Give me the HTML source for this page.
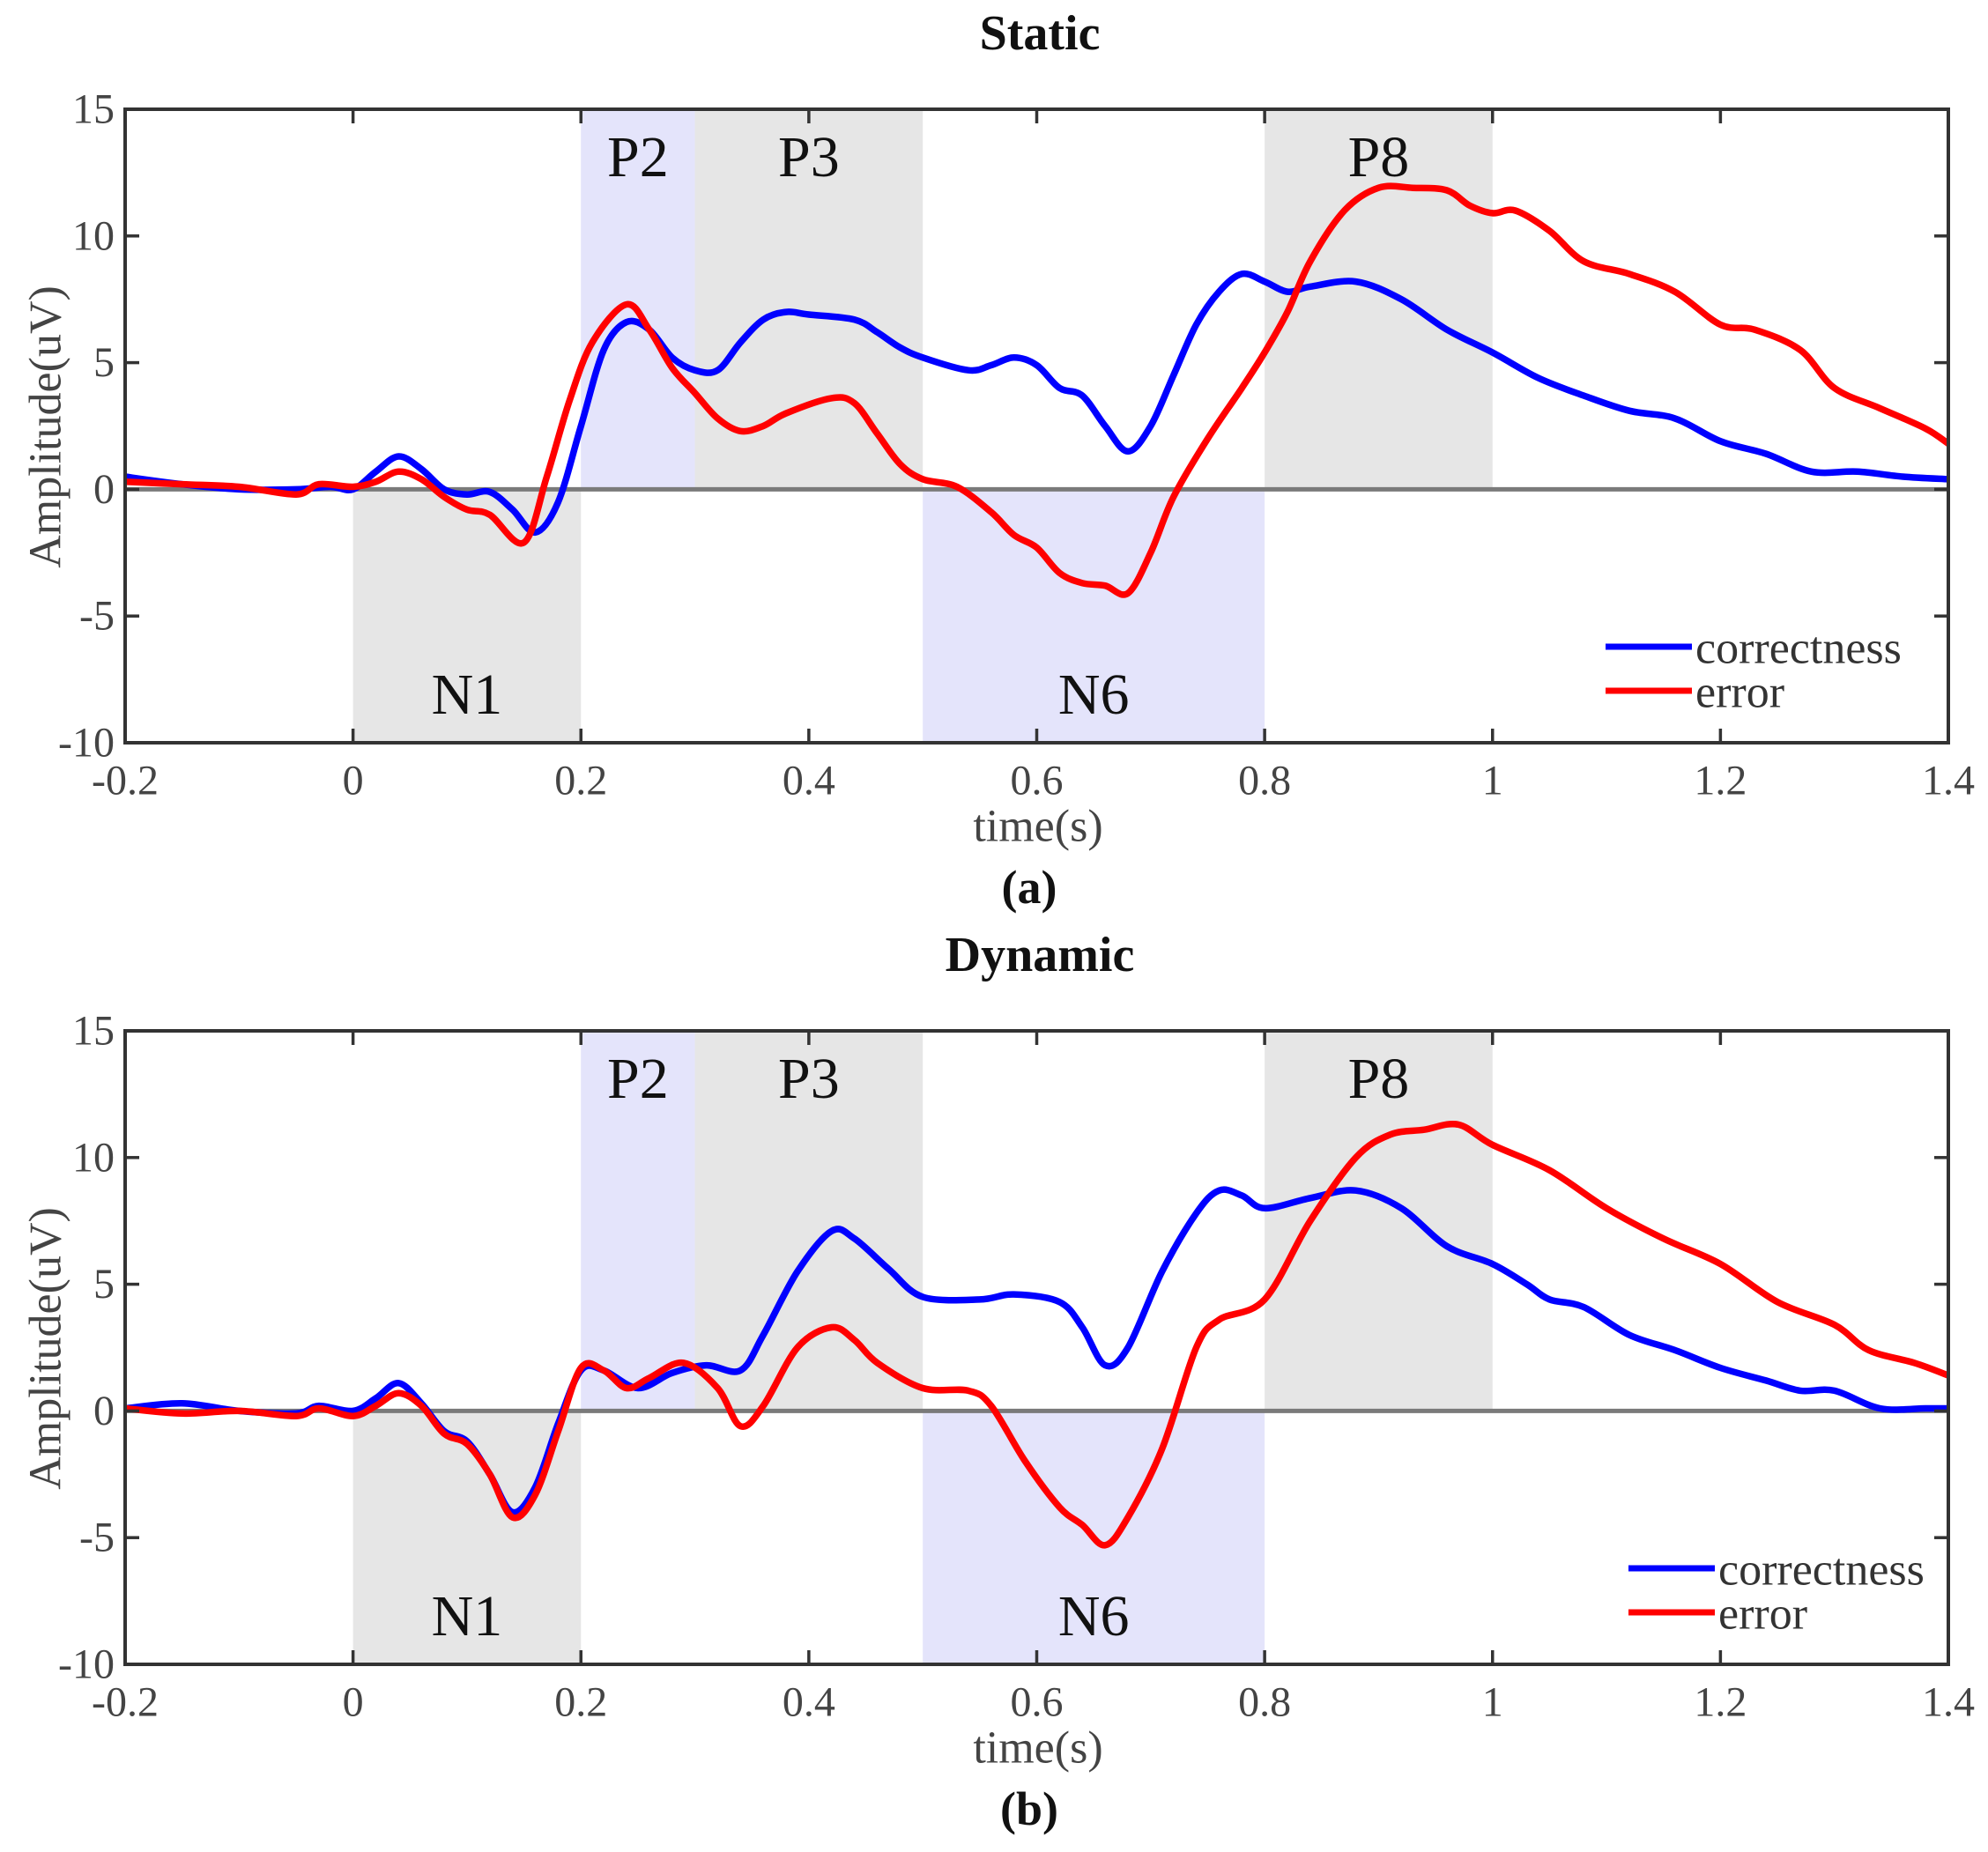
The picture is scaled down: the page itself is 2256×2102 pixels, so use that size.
<!DOCTYPE html>
<html><head><meta charset="utf-8"><style>
html,body{margin:0;padding:0;background:#fff;}
svg{display:block;}
text{font-family:"Liberation Serif",serif;}
</style></head><body>
<svg id="fig" width="2256" height="2102" viewBox="0 0 2256 2102" xmlns="http://www.w3.org/2000/svg"></svg>
<script>
// ---- data ----
const xTicks = [-0.2,0,0.2,0.4,0.6,0.8,1,1.2,1.4];
const xTickLabels = ["-0.2","0","0.2","0.4","0.6","0.8","1","1.2","1.4"];
const yTicks = [-10,-5,0,5,10,15];
const yTickLabels = ["-10","-5","0","5","10","15"];
const regionNames = ["N1","P2","P3","N6","P8"];
const regionStart = [0,0.2,0.3,0.5,0.8];
const regionEnd = [0.2,0.3,0.5,0.8,1.0];
const regionSide = ["neg","pos","pos","neg","pos"];
const regionTint = ["gray","blue","gray","blue","gray"];

const staticCorrT = [-0.2,-0.15,-0.1,-0.05,-0.02,0,0.02,0.04,0.06,0.08,0.1,0.12,0.14,0.16,0.18,0.2,0.22,0.24,0.26,0.28,0.3,0.32,0.34,0.36,0.38,0.4,0.44,0.46,0.48,0.5,0.54,0.56,0.58,0.6,0.62,0.64,0.66,0.68,0.7,0.72,0.74,0.76,0.78,0.8,0.82,0.84,0.88,0.92,0.96,1.0,1.04,1.08,1.12,1.16,1.2,1.24,1.28,1.32,1.36,1.4];
const staticCorrV = [0.5,0.2,0,0,0.1,0,0.7,1.3,0.8,0,-0.2,-0.1,-0.8,-1.7,-0.5,2.5,5.5,6.6,6.3,5.2,4.7,4.7,5.8,6.7,7.0,6.9,6.7,6.2,5.6,5.2,4.7,4.9,5.2,4.9,4.0,3.7,2.5,1.5,2.5,4.5,6.5,7.8,8.5,8.2,7.8,8.0,8.2,7.5,6.3,5.4,4.4,3.7,3.1,2.8,1.9,1.4,0.7,0.7,0.5,0.4];
const staticErrT = [-0.2,-0.15,-0.1,-0.05,-0.03,0,0.02,0.04,0.06,0.08,0.1,0.12,0.15,0.17,0.19,0.21,0.24,0.26,0.28,0.3,0.32,0.34,0.36,0.38,0.42,0.44,0.46,0.48,0.5,0.53,0.56,0.58,0.6,0.62,0.64,0.66,0.68,0.7,0.72,0.75,0.78,0.8,0.82,0.84,0.87,0.9,0.93,0.96,0.98,1.0,1.02,1.05,1.08,1.12,1.16,1.2,1.23,1.27,1.3,1.34,1.38,1.4];
const staticErrV = [0.3,0.2,0.1,-0.2,0.2,0.1,0.3,0.7,0.4,-0.3,-0.8,-1.0,-2.1,0.5,3.5,5.8,7.3,6.3,4.8,3.8,2.8,2.3,2.5,3.0,3.6,3.4,2.2,1.0,0.4,0.1,-0.9,-1.8,-2.3,-3.3,-3.7,-3.8,-4.1,-2.5,-0.3,2.0,4.0,5.4,7.0,9.0,11.0,11.9,11.9,11.8,11.2,10.9,11.0,10.2,9.0,8.5,7.8,6.5,6.3,5.5,4.0,3.2,2.4,1.8];

const dynCorrT = [-0.2,-0.15,-0.1,-0.05,-0.03,0,0.02,0.04,0.06,0.08,0.1,0.12,0.14,0.16,0.18,0.2,0.22,0.25,0.28,0.31,0.34,0.36,0.39,0.42,0.44,0.47,0.5,0.55,0.58,0.62,0.64,0.66,0.68,0.71,0.74,0.76,0.78,0.8,0.84,0.88,0.92,0.96,1.0,1.03,1.05,1.08,1.12,1.16,1.2,1.24,1.27,1.3,1.34,1.38,1.4];
const dynCorrV = [0.1,0.3,0,-0.1,0.2,0,0.5,1.1,0.3,-0.8,-1.2,-2.5,-4.0,-3.0,-0.5,1.6,1.6,0.9,1.5,1.8,1.6,3.0,5.5,7.1,6.8,5.6,4.5,4.4,4.6,4.3,3.3,1.8,2.5,5.5,7.8,8.7,8.5,8.0,8.4,8.7,8.0,6.5,5.8,5.0,4.4,4.1,3.0,2.4,1.7,1.2,0.8,0.8,0.1,0.1,0.1];
const dynErrT = [-0.2,-0.15,-0.1,-0.05,-0.03,0,0.02,0.04,0.06,0.08,0.1,0.12,0.14,0.16,0.18,0.2,0.22,0.24,0.26,0.29,0.32,0.34,0.36,0.39,0.42,0.44,0.46,0.5,0.54,0.56,0.59,0.62,0.64,0.66,0.68,0.71,0.74,0.76,0.8,0.84,0.88,0.91,0.94,0.97,1.0,1.05,1.1,1.15,1.2,1.25,1.3,1.33,1.37,1.4];
const dynErrV = [0.1,-0.1,0,-0.2,0.1,-0.2,0.2,0.7,0.2,-0.9,-1.3,-2.5,-4.2,-3.3,-0.8,1.7,1.6,0.9,1.3,1.9,0.9,-0.6,0.2,2.5,3.3,2.8,1.9,0.9,0.8,0.2,-2.0,-3.8,-4.5,-5.3,-4.2,-1.5,2.5,3.6,4.4,7.5,10.0,10.9,11.1,11.3,10.5,9.5,8.0,6.8,5.8,4.3,3.4,2.4,1.9,1.4];

const NS = "http://www.w3.org/2000/svg";
const svg = document.getElementById('fig');
function mk(tag, attrs, parent, txt){
  const e = document.createElementNS(NS, tag);
  for (const k in attrs) e.setAttribute(k, attrs[k]);
  if (txt !== undefined) e.textContent = txt;
  (parent||svg).appendChild(e);
  return e;
}
function smoothPath(pts){
  let d = "M"+pts[0][0].toFixed(1)+","+pts[0][1].toFixed(1);
  for (let i=0;i<pts.length-1;i++){
    const p0=pts[Math.max(0,i-1)], p1=pts[i], p2=pts[i+1], p3=pts[Math.min(pts.length-1,i+2)];
    const c1x=p1[0]+(p2[0]-p0[0])/6, c1y=p1[1]+(p2[1]-p0[1])/6;
    const c2x=p2[0]-(p3[0]-p1[0])/6, c2y=p2[1]-(p3[1]-p1[1])/6;
    d += " C"+c1x.toFixed(1)+","+c1y.toFixed(1)+" "+c2x.toFixed(1)+","+c2y.toFixed(1)+" "+p2[0].toFixed(1)+","+p2[1].toFixed(1);
  }
  return d;
}

function panel(cfg){
  const L=142, R=2211, T=cfg.top, B=cfg.top+719;
  const xS = v => L + (v+0.2)/1.6*(R-L);
  const yS = v => B - (v+10)/25*(B-T);
  const g = mk('g', {});
  
  
  const title = mk('text',{x:1180,y:T-86,'text-anchor':'middle','font-size':56,'font-weight':'bold','dominant-baseline':'central',fill:'#111'},g,cfg.title);
  
  
  for (let i=0;i<regionNames.length;i++){
    const x0=xS(regionStart[i]), x1=xS(regionEnd[i]);
    const y0 = regionSide[i]==="pos"? yS(15): yS(0);
    const y1 = regionSide[i]==="pos"? yS(0): yS(-10);
    const r = mk('rect',{x:x0,y:y0,width:x1-x0,height:y1-y0,fill: regionTint[i]==="gray"?"#e6e6e6":"#e4e4fb"},g);
    
    
    const lbl = mk('text',{x:(x0+x1)/2,y: regionSide[i]==="pos"? yS(13.1): yS(-8.1),'text-anchor':'middle','dominant-baseline':'central','font-size':66,fill:'#111'},g,regionNames[i]);
    
    
  }
  const z = mk('line',{x1:L,x2:R,y1:yS(0),y2:yS(0),stroke:'#7a7a7a','stroke-width':5},g);
  
  
  const series = [[cfg.cT,cfg.cV,'#0000ff','correctness'],[cfg.eT,cfg.eV,'#ff0000','error']];
  for (const s of series){
    const pts = s[0].map((t,i)=>[xS(t), yS(s[1][i])]);
    const p = mk('path',{d:smoothPath(pts),fill:'none',stroke:s[2],'stroke-width':7.5,'stroke-linejoin':'round'},g);
    
    
  }
  const box = mk('rect',{x:L,y:T,width:R-L,height:B-T,fill:'none',stroke:'#333','stroke-width':4},g);
  
  
  for (let i=0;i<xTicks.length;i++){
    const x=xS(xTicks[i]);
    mk('line',{x1:x,x2:x,y1:B,y2:B-16,stroke:'#333','stroke-width':3.5},g);
    mk('line',{x1:x,x2:x,y1:T,y2:T+16,stroke:'#333','stroke-width':3.5},g);
    const t = mk('text',{x:x,y:B+43,'text-anchor':'middle','dominant-baseline':'central','font-size':48,fill:'#444'},g,xTickLabels[i]);
    
    
  }
  for (let i=0;i<yTicks.length;i++){
    const y=yS(yTicks[i]);
    mk('line',{x1:L,x2:L+16,y1:y,y2:y,stroke:'#333','stroke-width':3.5},g);
    mk('line',{x1:R,x2:R-16,y1:y,y2:y,stroke:'#333','stroke-width':3.5},g);
    const t = mk('text',{x:L-12,y:y,'text-anchor':'end','dominant-baseline':'central','font-size':48,fill:'#444'},g,yTickLabels[i]);
    
    
  }
  const xl = mk('text',{x:1178,y:B+95,'text-anchor':'middle','dominant-baseline':'central','font-size':52,fill:'#444'},g,'time(s)');
  
  
  const yl = mk('text',{x:0,y:0,'text-anchor':'middle','dominant-baseline':'central','font-size':52,fill:'#444',transform:'translate(52,'+((T+B)/2+1)+') rotate(-90)'},g,'Amplitude(uV)');
  
  
  const cap = mk('text',{x:1168,y:B+164,'text-anchor':'middle','dominant-baseline':'central','font-size':54,'font-weight':'bold',fill:'#111'},g,cfg.caption);
  
  
  const lx0=cfg.legX, lx1=cfg.legX+98;
  const legend=[['correctness','#0000ff',cfg.top+610],['error','#ff0000',cfg.top+660]];
  for (const e of legend){
    const ln = mk('line',{x1:lx0,x2:lx1,y1:e[2],y2:e[2],stroke:e[1],'stroke-width':7},g);
    
    
    const lt = mk('text',{x:lx1+4,y:e[2]+2,'dominant-baseline':'central','font-size':52,fill:'#333'},g,e[0]);
    
    
  }
}
panel({name:'static',title:'Static',caption:'(a)',top:124,cT:staticCorrT,cV:staticCorrV,eT:staticErrT,eV:staticErrV,legX:1822});
panel({name:'dynamic',title:'Dynamic',caption:'(b)',top:1170,cT:dynCorrT,cV:dynCorrV,eT:dynErrT,eV:dynErrV,legX:1848});
</script>
</body></html>
